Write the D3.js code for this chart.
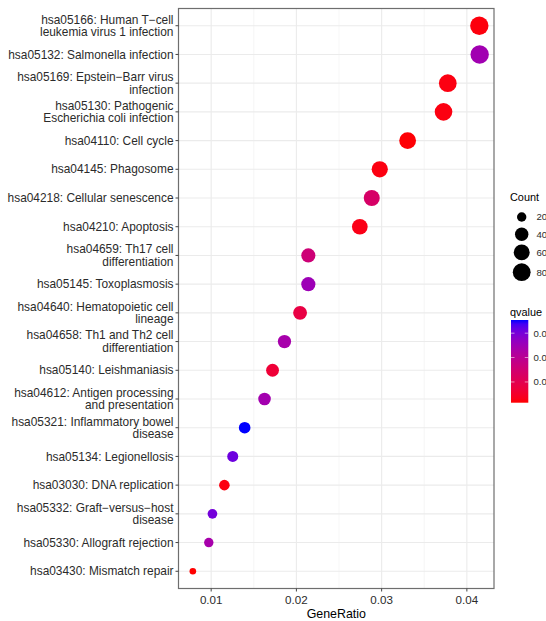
<!DOCTYPE html>
<html><head><meta charset="utf-8">
<script src="https://cdn.jsdelivr.net/npm/d3@7"></script>
<style>body{margin:0;background:#fff;overflow:hidden}text{font-family:"Liberation Sans",Arial,sans-serif;}</style>
</head><body><svg id="c" width="546" height="621"></svg>
<script>
// ---- data ----
const pathways = [
  ["hsa05166: Human T\u2212cell","leukemia virus 1 infection"],
  ["hsa05132: Salmonella infection"],
  ["hsa05169: Epstein\u2212Barr virus","infection"],
  ["hsa05130: Pathogenic","Escherichia coli infection"],
  ["hsa04110: Cell cycle"],
  ["hsa04145: Phagosome"],
  ["hsa04218: Cellular senescence"],
  ["hsa04210: Apoptosis"],
  ["hsa04659: Th17 cell","differentiation"],
  ["hsa05145: Toxoplasmosis"],
  ["hsa04640: Hematopoietic cell","lineage"],
  ["hsa04658: Th1 and Th2 cell","differentiation"],
  ["hsa05140: Leishmaniasis"],
  ["hsa04612: Antigen processing","and presentation"],
  ["hsa05321: Inflammatory bowel","disease"],
  ["hsa05134: Legionellosis"],
  ["hsa03030: DNA replication"],
  ["hsa05332: Graft\u2212versus\u2212host","disease"],
  ["hsa05330: Allograft rejection"],
  ["hsa03430: Mismatch repair"]
];
const geneRatio = [0.04146,0.0415,0.03776,0.03726,0.03305,0.02978,0.02884,0.02744,0.0214,0.0214,
                   0.02043,0.0186,0.0172,0.01626,0.01393,0.01253,0.01155,0.01015,0.00972,0.00785];
const counts    = [87,87,79,78,69,63,61,58,45,45,43,39,36,34,29,26,24,21,20,16];
const qvalues   = [0.0022,0.0245,0.0025,0.0025,0.0018,0.0025,0.0134,0.0029,0.0157,0.0252,
                   0.0083,0.0235,0.0066,0.0242,0.0354,0.0310,0.0025,0.0303,0.0235,0.0015];
const xTicks = [0.01,0.02,0.03,0.04];
const xMinorTicks = [0.015,0.025,0.035];
const sizeBreaks = [20,40,60,80];
const qBreaks = [0.01,0.02,0.03];
const qTickLabels = ["0.01","0.02","0.03"];

// ---- layout ----
const panel = {left:178.5, right:494, top:8.5, bottom:588.5};
const svg = d3.select("#c");
const txt = "#2b2b2b";

const ext = d3.extent(geneRatio), pad = (ext[1]-ext[0])*0.05;
const x = d3.scaleLinear().domain([ext[0]-pad, ext[1]+pad]).range([panel.left, panel.right]);
const ids = pathways.map((p,i)=>p.join(" "));
const y = d3.scalePoint().domain(ids).range([panel.top, panel.bottom]).padding(0.6);
const cNorm = d3.scaleLinear().domain(d3.extent(counts)).range([0,1]);
const rLin = d3.scaleLinear().domain([0,1]).range([3.3,9.2]);
const r = c => rLin(Math.sqrt(cNorm(c)));
const color = d3.scaleLinear().domain(d3.extent(qvalues)).range(["#ff0000","#0000ff"]).interpolate(d3.interpolateLab);

// grid
const g = svg.append("g");
g.selectAll(".minor").data(xMinorTicks).join("line")
  .attr("x1",d=>x(d)).attr("x2",d=>x(d)).attr("y1",panel.top).attr("y2",panel.bottom)
  .attr("stroke","#f0f0f0").attr("stroke-width",0.6);
g.selectAll(".majx").data(xTicks).join("line")
  .attr("x1",d=>x(d)).attr("x2",d=>x(d)).attr("y1",panel.top).attr("y2",panel.bottom)
  .attr("stroke","#ebebeb").attr("stroke-width",1.1);
g.selectAll(".majy").data(ids).join("line")
  .attr("y1",d=>y(d)).attr("y2",d=>y(d)).attr("x1",panel.left).attr("x2",panel.right)
  .attr("stroke","#ebebeb").attr("stroke-width",1.1);

// points
svg.append("g").selectAll("circle").data(ids).join("circle")
  .attr("cx",(d,i)=>x(geneRatio[i])).attr("cy",d=>y(d))
  .attr("r",(d,i)=>r(counts[i])).attr("fill",(d,i)=>color(qvalues[i]));

// border
svg.append("rect").attr("x",panel.left).attr("y",panel.top)
  .attr("width",panel.right-panel.left).attr("height",panel.bottom-panel.top)
  .attr("fill","none").attr("stroke","#6e6e6e").attr("stroke-width",1.2);

// y axis
const yAx = svg.append("g");
yAx.selectAll("line").data(ids).join("line")
  .attr("x1",panel.left-3).attr("x2",panel.left).attr("y1",d=>y(d)).attr("y2",d=>y(d))
  .attr("stroke","#444").attr("stroke-width",1);
const lh = 12.6;
yAx.selectAll("text").data(pathways).join("text")
  .attr("text-anchor","end").attr("font-size",11.9).attr("fill",txt)
  .each(function(lines,i){
    const t = d3.select(this);
    const cy = y(ids[i]);
    lines.forEach((ln,k)=>{
      t.append("tspan").attr("x",panel.left-5)
       .attr("y", cy - (lines.length-1)/2*lh + k*lh + 4.2).text(ln);
    });
  });

// x axis
const xAx = svg.append("g");
xAx.selectAll("line").data(xTicks).join("line")
  .attr("x1",d=>x(d)).attr("x2",d=>x(d)).attr("y1",panel.bottom).attr("y2",panel.bottom+3)
  .attr("stroke","#444");
xAx.selectAll("text").data(xTicks).join("text")
  .attr("x",d=>x(d)).attr("y",panel.bottom+15.5).attr("text-anchor","middle")
  .attr("font-size",11.6).attr("fill",txt).text(d=>d3.format(".2f")(d));
svg.append("text").attr("x",(panel.left+panel.right)/2).attr("y",617.5)
  .attr("text-anchor","middle").attr("font-size",12.4).attr("fill","#000").text("GeneRatio");

// size legend
const lg = svg.append("g");
lg.append("text").attr("x",510).attr("y",201).attr("font-size",10.9).attr("fill","#000").text("Count");
let yy = 208.3;
sizeBreaks.forEach(b=>{
  const kh = Math.max(17.3, 2*r(b)+3);
  const cy = yy + kh/2;
  lg.append("circle").attr("cx",521.7).attr("cy",cy).attr("r",r(b)).attr("fill","#000");
  lg.append("text").attr("x",536.5).attr("y",cy+3.5).attr("font-size",9.6).attr("fill",txt).text(b);
  yy += kh;
});

// colour legend
const cb = {x:511, w:17.3, top:320, bottom:402.7};
lg.append("text").attr("x",510).attr("y",315.5).attr("font-size",10.9).attr("fill","#000").text("qvalue");
const defs = svg.append("defs");
const grad = defs.append("linearGradient").attr("id","qg").attr("x1",0).attr("x2",0).attr("y1",1).attr("y2",0);
const qd = color.domain();
d3.range(0,1.0001,0.05).forEach(t=>{
  grad.append("stop").attr("offset",t).attr("stop-color",color(qd[0]+t*(qd[1]-qd[0])));
});
lg.append("rect").attr("x",cb.x).attr("y",cb.top).attr("width",cb.w).attr("height",cb.bottom-cb.top).attr("fill","url(#qg)");
const qy = d3.scaleLinear().domain(qd).range([cb.bottom, cb.top]);
qBreaks.forEach((b,i)=>{
  lg.append("line").attr("x1",cb.x).attr("x2",cb.x+3.5).attr("y1",qy(b)).attr("y2",qy(b)).attr("stroke","#fff").attr("stroke-width",0.8).attr("opacity",0.7);
  lg.append("line").attr("x1",cb.x+cb.w-3.5).attr("x2",cb.x+cb.w).attr("y1",qy(b)).attr("y2",qy(b)).attr("stroke","#fff").attr("stroke-width",0.8).attr("opacity",0.7);
  lg.append("text").attr("x",533.5).attr("y",qy(b)+3.5).attr("font-size",9.6).attr("fill",txt).text(qTickLabels[i]);
});
</script></body></html>
